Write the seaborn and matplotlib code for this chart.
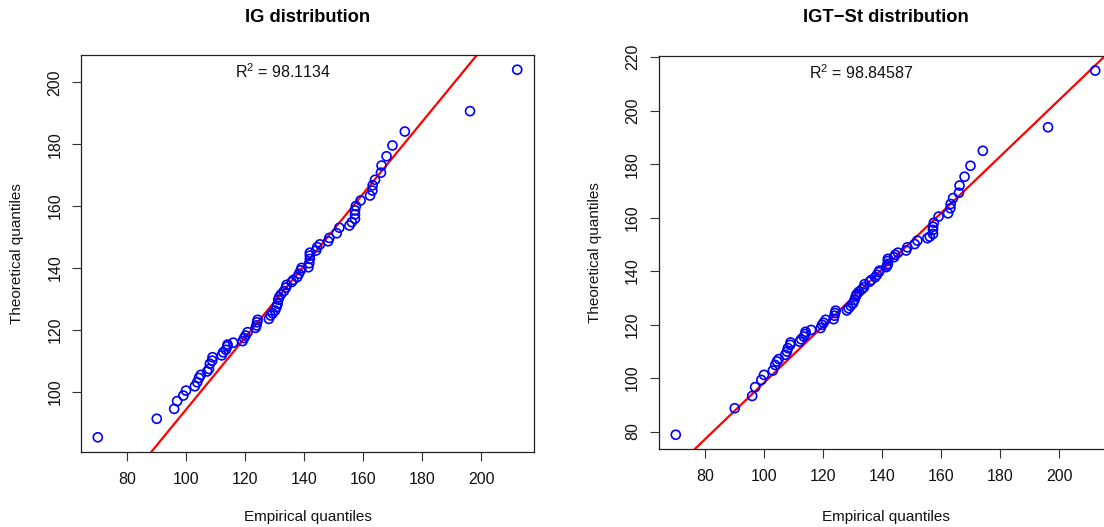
import numpy as np
import pandas as pd
import matplotlib
matplotlib.use("Agg")
import matplotlib.pyplot as plt
import seaborn as sns

# ---- data ----
empirical = [70.0, 90.0, 95.9, 96.9, 99.0, 99.9, 102.9, 103.7, 104.3, 104.9,
             107.1, 107.7, 108.0, 108.8, 108.9, 112.0, 112.5, 113.4, 113.9, 114.0,
             115.9, 119.1, 119.6, 120.1, 120.8, 123.5, 123.8, 124.0, 124.2, 128.0,
             128.6, 129.3, 130.1, 130.6, 131.0, 131.2, 131.5, 132.1, 133.1, 133.8,
             134.0, 135.7, 136.3, 137.6, 138.2, 138.8, 139.1, 141.4, 141.7, 141.9,
             141.9, 141.9, 144.0, 144.4, 145.3, 148.1, 148.5, 151.0, 151.9, 155.3,
             156.1, 157.2, 157.2, 157.2, 157.5, 159.1, 162.3, 163.1, 163.2, 164.0,
             166.0, 166.2, 167.9, 169.9, 174.1, 196.2, 212.2]

theo_ig = [85.2, 91.2, 94.4, 96.9, 98.7, 100.3, 101.7, 103.0, 104.4, 105.4,
           106.5, 107.3, 109.0, 110.0, 111.1, 111.7, 112.7, 113.5, 114.6, 115.2,
           115.8, 116.3, 117.3, 118.1, 119.2, 120.6, 121.4, 122.4, 123.2, 123.5,
           124.6, 125.3, 126.2, 127.3, 128.4, 129.7, 130.5, 131.4, 132.5, 133.6,
           134.5, 135.4, 136.1, 137.0, 138.1, 139.2, 140.0, 140.2, 141.5, 142.9,
           144.0, 144.9, 145.6, 146.7, 147.6, 148.6, 149.7, 151.2, 153.0, 153.7,
           154.8, 155.9, 157.3, 158.6, 160.0, 161.8, 163.4, 165.0, 166.7, 168.5,
           170.8, 173.1, 176.1, 179.6, 184.1, 190.7, 204.1]

theo_igt = [78.8, 88.7, 93.3, 96.6, 99.3, 101.2, 102.8, 104.9, 106.2, 107.1,
            108.7, 109.9, 111.2, 112.4, 113.3, 113.6, 114.5, 115.5, 116.5, 117.3,
            118.0, 118.7, 119.9, 120.7, 121.8, 122.0, 123.3, 124.3, 125.2, 125.3,
            126.1, 127.0, 128.0, 129.2, 130.5, 131.0, 131.5, 132.3, 133.2, 134.0,
            135.1, 136.0, 136.7, 137.7, 138.6, 139.6, 140.2, 141.5, 142.1, 142.7,
            143.8, 144.6, 145.2, 146.1, 146.9, 147.7, 148.9, 150.1, 151.4, 152.3,
            152.9, 153.9, 155.4, 156.6, 158.1, 160.4, 161.6, 163.5, 165.1, 167.3,
            169.3, 172.0, 175.3, 179.4, 185.0, 193.8, 215.0]

titles = ["IG distribution", "IGT\u2212St distribution"]
r2_values = ["98.1134", "98.84587"]
line_slopes = [1.163, 1.057]
line_intercepts = [-22.04, -7.35]
x_ticks = [80, 100, 120, 140, 160, 180, 200]
y_ticks = [[100, 120, 140, 160, 180, 200], [80, 100, 120, 140, 160, 180, 200, 220]]

# ---- style ----
sns.set_style("white")
plt.rcParams["font.family"] = ["Liberation Sans", "DejaVu Sans"]
plt.rcParams["text.color"] = "black"
plt.rcParams["axes.labelcolor"] = "black"
plt.rcParams["mathtext.fontset"] = "custom"
plt.rcParams["mathtext.rm"] = "Liberation Sans"
plt.rcParams["mathtext.it"] = "Liberation Sans:italic"
plt.rcParams["mathtext.bf"] = "Liberation Sans:bold"
plt.rcParams["xtick.major.size"] = 6.5
plt.rcParams["ytick.major.size"] = 6.5
plt.rcParams["xtick.major.width"] = 0.8
plt.rcParams["ytick.major.width"] = 0.8
plt.rcParams["xtick.color"] = "#333333"
plt.rcParams["ytick.color"] = "#333333"
plt.rcParams["xtick.labelcolor"] = "#111111"
plt.rcParams["ytick.labelcolor"] = "#111111"

fig = plt.figure(figsize=(11.04, 5.27), dpi=100)
W, H = 1104.0, 527.0
boxes = [(81, 55, 534, 452), (659, 56, 1112, 449.3)]
ylabel_x = [17, 595]
axes = []
for (l, t, r, b) in boxes:
    axes.append(fig.add_axes([l / W, (H - b) / H, (r - l) / W, (b - t) / H]))

theos = [theo_ig, theo_igt]

def rlim(v):
    lo, hi = min(v), max(v)
    pad = 0.04 * (hi - lo)
    return lo - pad, hi + pad

for i, ax in enumerate(axes):
    df = pd.DataFrame({"emp": empirical, "theo": theos[i]})
    sns.scatterplot(data=df, x="emp", y="theo", ax=ax, marker="o",
                    facecolors="none", edgecolor="#0000FF", linewidth=1.2,
                    s=42, zorder=3)
    ax.axline((0, line_intercepts[i]), slope=line_slopes[i], color="#FF0000",
              linewidth=1.6, zorder=2)
    ax.set_xlim(*rlim(empirical))
    ax.set_ylim(*rlim(theos[i]))
    ax.set_xticks(x_ticks)
    ax.set_yticks(y_ticks[i])
    ax.tick_params(axis="both", direction="out", labelsize=11.5, bottom=True, left=True)
    ax.tick_params(axis="x", pad=8)
    ax.tick_params(axis="y", pad=7)
    for lab in ax.get_yticklabels():
        lab.set_rotation(90)
        lab.set_va("center")
    for sp in ax.spines.values():
        sp.set_color("#222222")
        sp.set_linewidth(0.9)
    ax.set_xlabel("Empirical quantiles", fontsize=11, va="center", color="#111111")
    ax.set_ylabel("Theoretical quantiles", fontsize=11, va="center", color="#111111")
    hpx = boxes[i][3] - boxes[i][1]
    ax.xaxis.set_label_coords(0.5, -(517 - boxes[i][3]) / hpx)
    ax.yaxis.set_label_coords(-(boxes[i][0] - ylabel_x[i]) / 453.0, 0.5)
    ax.set_title(titles[i], fontsize=13.2, fontweight="bold", color="black",
                 y=(boxes[i][3] - 18) / hpx, va="center", pad=0)
    ax.text(0.446, 0.957, r"R$^{\mathregular{2}}$ = " + r2_values[i],
            transform=ax.transAxes, ha="center", va="center", fontsize=11.5,
            color="#111111")

fig.savefig("out.png", dpi=100)
